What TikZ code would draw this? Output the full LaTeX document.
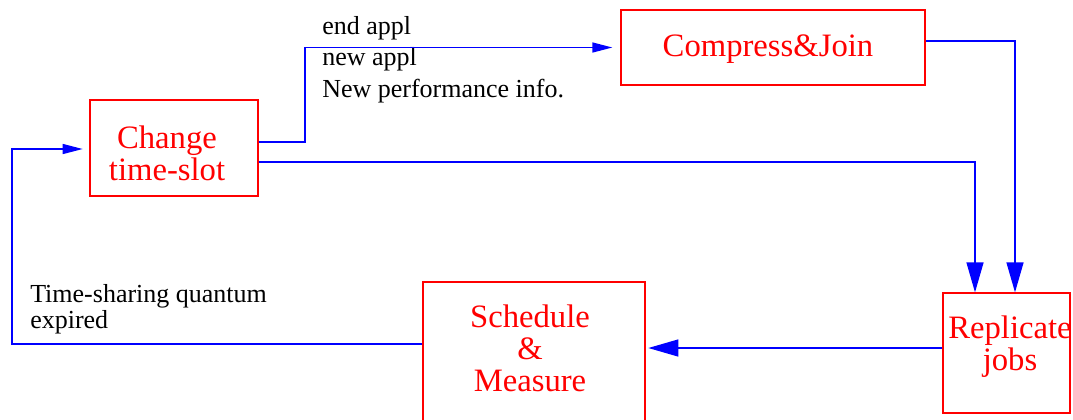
\documentclass[tikz,border=0pt]{standalone}
\usepackage{fontspec}
\setmainfont{Liberation Serif}
\usetikzlibrary{arrows.meta}

\tikzset{
  box/.style={draw=red,line width=1pt,inner sep=0pt},
  boxtext/.style={text=red,font=\fontsize{24.5}{24}\selectfont,align=center,anchor=base,inner sep=0pt},
  note/.style={font=\fontsize{19.5}{23.5}\selectfont,align=left,anchor=base west,inner sep=0pt},
  flow/.style={draw=blue,line width=1pt},
  bighead/.style={-{Triangle[length=22.5pt,width=12.75pt]}},
  smallhead/.style={-{Triangle[length=15pt,width=7.5pt]}}
}

\begin{document}
\begin{tikzpicture}[x=0.75pt,y=-0.75pt,line join=miter]
\useasboundingbox (0,0) rectangle (1073,419);
\clip (0,0) rectangle (1073,419);
% boxes
\node[box,minimum width=126pt,minimum height=72pt] (change) at (174,148) {};
\node[box,minimum width=228pt,minimum height=56.25pt] (compress) at (773,47.5) {};
\node[box,minimum width=95.25pt,minimum height=90pt] (replicate) at (1006.5,353) {};
\node[box,minimum width=166.5pt,minimum height=107.25pt] (schedule) at (534,353.5) {};
% text sits on the baseline of its last line
\node[boxtext] (changetxt) at (167,180) {Change\\time-slot};
\node[boxtext] (compresstxt) at (768,56) {Compress\&Join};
\node[boxtext] (replicatetxt) at (1010,370) {Replicate\\jobs};
\node[boxtext] (scheduletxt) at (530,391) {Schedule\\\&\\Measure};
% labels
\node[note] (events) at (322,97) {end appl\\new appl\\New performance info.};
\node[note,font=\fontsize{19.5}{19.5}\selectfont] (quantum) at (30,328) {Time-sharing quantum\\expired};
% connectors
\draw[flow,smallhead,shorten >=6pt] (change.east |- 0,142) -- (305,142) |- (compress.west);
\draw[flow,bighead] (change.east |- 0,162) -| (replicate.north -| 975,0);
\draw[flow,bighead] (compress.east |- 0,41) -| (replicate.north -| 1015,0);
\draw[flow,bighead,shorten >=2pt] (replicate.west |- 0,348) -- (schedule.east |- 0,348);
\draw[flow,smallhead,shorten >=5pt] (schedule.west |- 0,344) -| (12,149) -- (change.west |- 0,149);
\end{tikzpicture}
\end{document}
